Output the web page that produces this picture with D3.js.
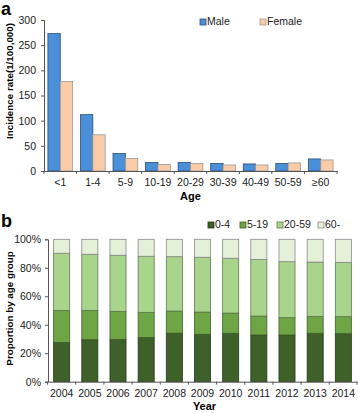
<!DOCTYPE html>
<html>
<head>
<meta charset="utf-8">
<script src="https://cdn.jsdelivr.net/npm/d3@7"></script>
<style>
  html, body { margin: 0; padding: 0; background: #fff; }
  svg { display: block; font-family: "Liberation Sans", Arial, sans-serif; }
  .tick text { font-size: 10.5px; fill: #222; }
  .axis path, .axis line { stroke: #555; }
</style>
</head>
<body>
<div id="chart"></div>
<script>
// panel a: incidence by age and sex
const ageGroups = ['<1', '1-4', '5-9', '10-19', '20-29', '30-39', '40-49', '50-59', '≥60'];
const sexes = ['Male', 'Female'];
const maleRate = [273, 112, 35, 17, 17, 15, 14, 15, 24];
const femaleRate = [178, 72, 25, 13, 15, 12, 12, 16, 22];
const rateTicks = [0, 50, 100, 150, 200, 250, 300];

// panel b: proportion by age group per year (%)
const years = ['2004', '2005', '2006', '2007', '2008', '2009', '2010', '2011', '2012', '2013', '2014'];
const bands = ['0-4', '5-19', '20-59', '60-'];
const share0to4 = [27.6, 29.5, 29.7, 31.1, 34.1, 33.3, 34.0, 32.8, 32.8, 34.0, 33.7];
const share5to19 = [22.5, 20.6, 19.7, 17.6, 15.5, 15.6, 14.2, 13.3, 12.2, 11.9, 12.0];
const share20to59 = [40.1, 39.4, 39.4, 39.4, 38.2, 38.5, 38.5, 39.8, 39.3, 38.1, 38.1];

const W = 358, H = 413;
const svg = d3.select('#chart').append('svg')
  .attr('width', W).attr('height', H);

// ---------- panel a ----------
(function () {
  const m = { left: 44, right: 21, top: 20, bottom: 242 };
  const x = d3.scaleBand().domain(ageGroups).range([m.left, W - m.right]).paddingInner(0.24).paddingOuter(0.12);
  const sx = d3.scaleBand().domain(sexes).range([0, x.bandwidth()]);
  const y = d3.scaleLinear().domain([0, 300]).range([171, 20]);
  const colors = { Male: '#4a8fd8', Female: '#f9cba7' };
  const strokes = { Male: '#2f4f74', Female: '#9a9a9a' };

  svg.append('text').attr('x', 1).attr('y', 15)
    .attr('font-size', 18).attr('font-weight', 'bold').text('a');

  const rows = ageGroups.map((g, i) => ({ g, Male: maleRate[i], Female: femaleRate[i] }));
  const grp = svg.append('g').selectAll('g').data(rows).join('g')
    .attr('transform', d => `translate(${x(d.g)},0)`);
  grp.selectAll('rect').data(d => sexes.map(s => ({ s, v: d[s] }))).join('rect')
    .attr('x', d => sx(d.s)).attr('width', sx.bandwidth())
    .attr('y', d => y(d.v)).attr('height', d => y(0) - y(d.v))
    .attr('fill', d => colors[d.s]).attr('stroke', d => strokes[d.s]).attr('stroke-width', 0.8);

  svg.append('g').attr('class', 'axis').attr('transform', `translate(${m.left},0)`)
    .call(d3.axisLeft(y).tickValues(rateTicks).tickSize(3).tickPadding(5));
  svg.append('g').attr('class', 'axis').attr('transform', `translate(0,${y(0)})`)
    .call(d3.axisBottom(x).tickSize(0).tickPadding(8))
    .call(a => {
      const edges = ageGroups.map(g => x(g) - x.step() * x.paddingInner() / 2);
      edges.push(W - m.right);
      a.selectAll('.edge').data(edges).join('line').attr('class', 'edge')
        .attr('x1', d => d).attr('x2', d => d).attr('y1', 0).attr('y2', 3).attr('stroke', '#555');
    });

  svg.append('text').attr('x', (m.left + W - m.right) / 2).attr('y', 200)
    .attr('text-anchor', 'middle').attr('font-size', 11).attr('font-weight', 'bold').text('Age');
  svg.append('text').attr('transform', `translate(13,${(22 + 140) / 2}) rotate(-90)`)
    .attr('text-anchor', 'middle').attr('font-size', 9.8).attr('font-weight', 'bold')
    .text('Incidence rate(1/100,000)');

  const lg = svg.append('g').selectAll('g').data(sexes).join('g')
    .attr('transform', (d, i) => `translate(${200 + i * 60},23)`);
  lg.append('rect').attr('x', 0).attr('y', -4).attr('width', 6).attr('height', 6)
    .attr('fill', d => colors[d]).attr('stroke', d => strokes[d]).attr('stroke-width', 0.8);
  lg.append('text').attr('x', 7).attr('y', 2).attr('font-size', 10.5).attr('fill', '#222').text(d => d);
})();

// ---------- panel b ----------
(function () {
  const left = 48, right = 357, top = 239.3, bottom = 381.7;
  const x = d3.scaleBand().domain(years).range([left, right]).paddingInner(0.43).paddingOuter(0.2);
  const y = d3.scaleLinear().domain([0, 1]).range([bottom, top]);
  const colors = ['#3d6128', '#6ea646', '#a9d48b', '#e4f1d8'];
  const strokes = ['#26381a', '#3f5f2a', '#5f7a50', '#8a8a8a'];

  svg.append('text').attr('x', 1).attr('y', 227)
    .attr('font-size', 18).attr('font-weight', 'bold').text('b');

  const rows = years.map((yr, i) => ({
    year: yr,
    '0-4': share0to4[i],
    '5-19': share5to19[i],
    '20-59': share20to59[i],
    '60-': 100 - share0to4[i] - share5to19[i] - share20to59[i]
  }));
  const stack = d3.stack().keys(bands).offset(d3.stackOffsetExpand)(rows);

  svg.append('g').selectAll('g').data(stack).join('g')
    .attr('fill', (d, i) => colors[i]).attr('stroke', (d, i) => strokes[i]).attr('stroke-width', 0.8)
    .selectAll('rect').data(d => d).join('rect')
    .attr('x', d => x(d.data.year)).attr('width', x.bandwidth())
    .attr('y', d => y(d[1])).attr('height', d => y(d[0]) - y(d[1]));

  svg.append('g').attr('class', 'axis').attr('transform', `translate(${left},0)`)
    .call(d3.axisLeft(y).tickValues([0, 0.2, 0.4, 0.6, 0.8, 1]).tickFormat(d3.format('.0%')).tickSize(3).tickPadding(4));
  svg.append('g').attr('class', 'axis').attr('transform', `translate(0,${bottom})`)
    .call(d3.axisBottom(x).tickSize(0).tickPadding(8))
    .call(a => {
      const edges = years.map(yr => x(yr) - x.step() * x.paddingInner() / 2);
      edges.push(right);
      a.selectAll('.edge').data(edges).join('line').attr('class', 'edge')
        .attr('x1', d => d).attr('x2', d => d).attr('y1', 0).attr('y2', 3).attr('stroke', '#555');
    });

  svg.append('text').attr('x', (left + right) / 2 + 2).attr('y', 410)
    .attr('text-anchor', 'middle').attr('font-size', 11).attr('font-weight', 'bold').text('Year');
  svg.append('text').attr('transform', `translate(13,${(250 + 367) / 2}) rotate(-90)`)
    .attr('text-anchor', 'middle').attr('font-size', 9.8).attr('font-weight', 'bold')
    .text('Proportion by age group');

  const offs = [0, 32, 69, 110];
  const lg = svg.append('g').selectAll('g').data(bands).join('g')
    .attr('transform', (d, i) => `translate(${208 + offs[i]},226)`);
  lg.append('rect').attr('x', 0).attr('y', -4).attr('width', 6).attr('height', 6)
    .attr('fill', (d, i) => colors[i]).attr('stroke', (d, i) => strokes[i]).attr('stroke-width', 0.8);
  lg.append('text').attr('x', 7).attr('y', 2).attr('font-size', 10.5).attr('fill', '#222').text(d => d);
})();
</script>
</body>
</html>
